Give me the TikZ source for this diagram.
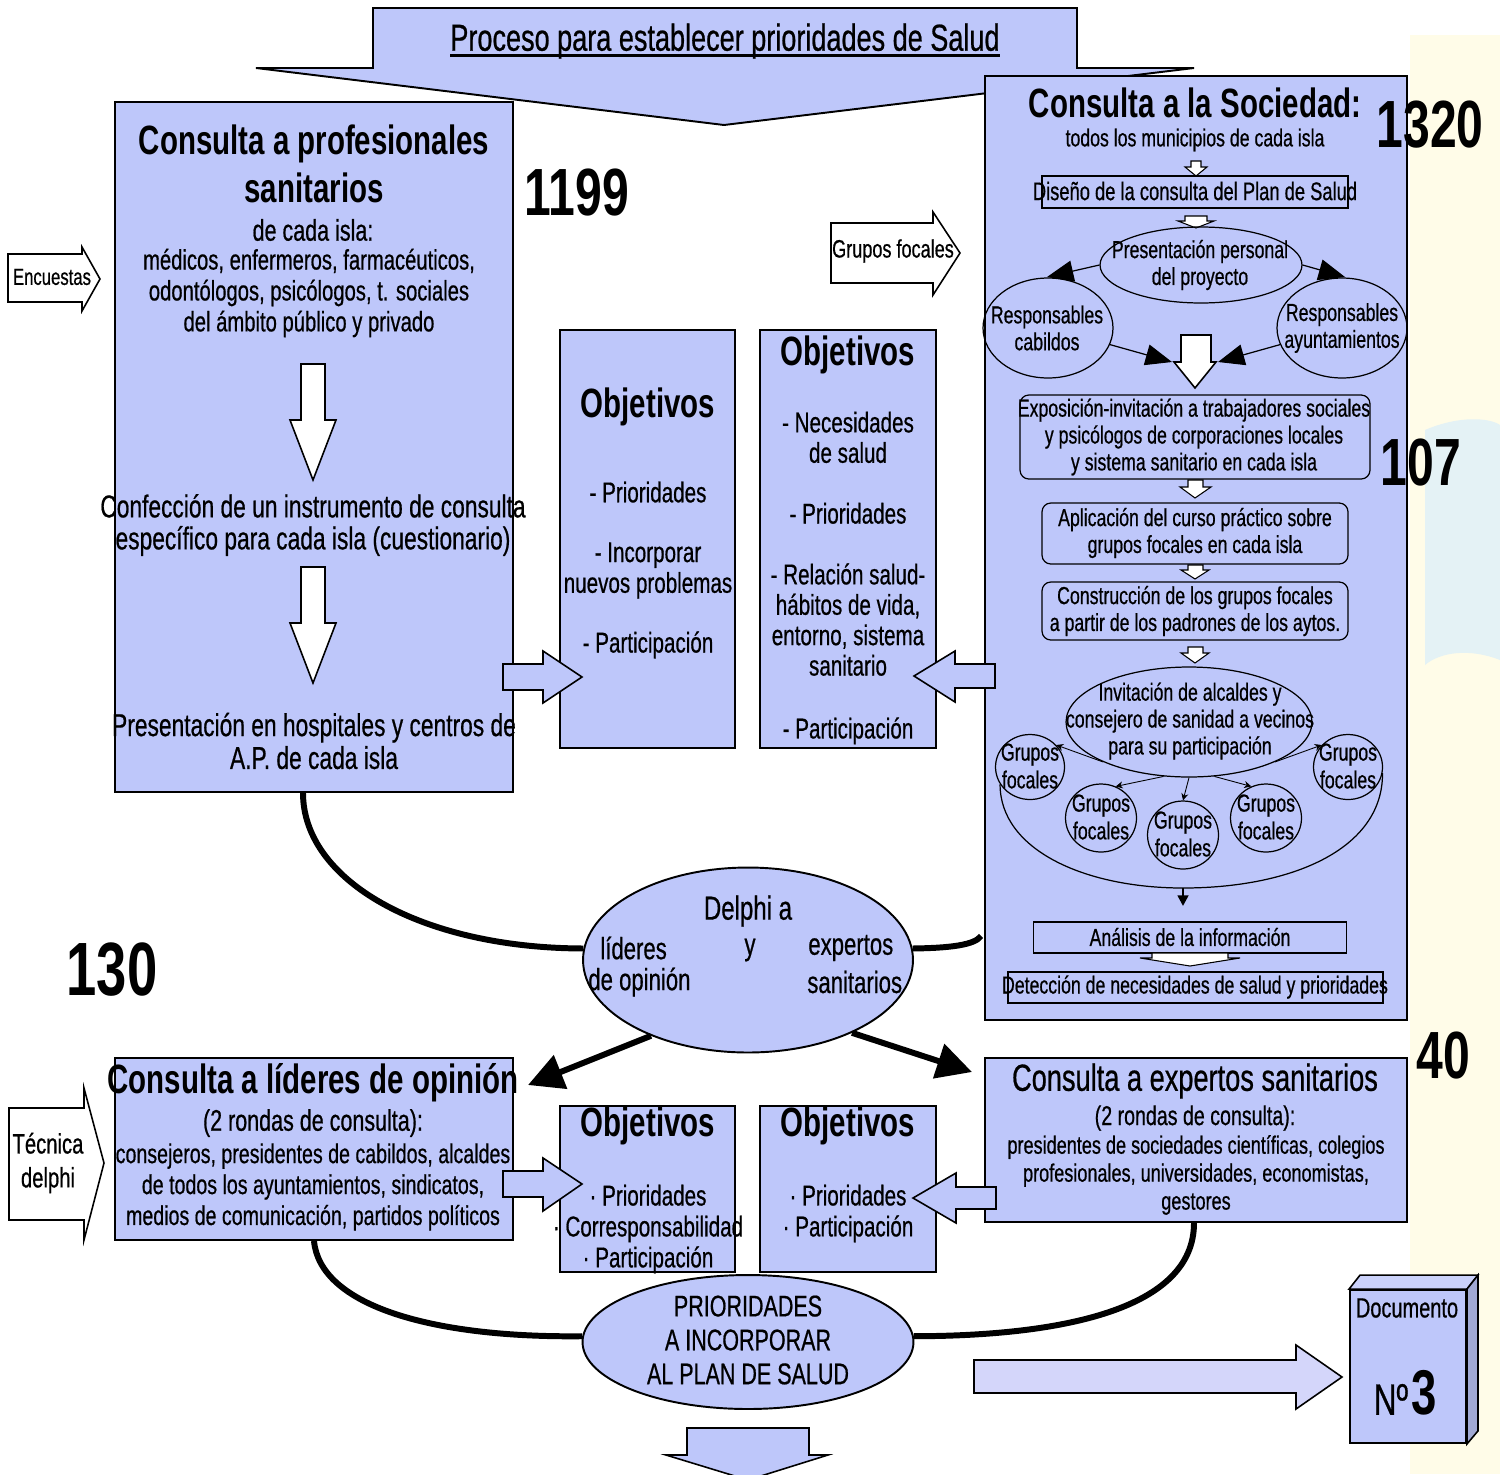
\documentclass[tikz,border=0pt]{standalone}
\usepackage{fontspec}
\setmainfont{Liberation Sans}[FakeStretch=0.72,UprightFeatures={FakeBold=0.6}]
\usetikzlibrary{shapes.geometric,arrows.meta,calc}
\definecolor{boxblue}{RGB}{190,199,250}
\definecolor{docblue}{RGB}{212,214,250}
\definecolor{bgyellow}{RGB}{255,252,232}
\definecolor{bgcyan}{RGB}{228,242,245}
\newcommand\fsz[2]{\fontsize{#1}{#2}\selectfont}

\begin{document}
\begin{tikzpicture}[x=0.02cm,y=-0.02cm,
  panel/.style={draw=black,line width=1.1pt,fill=boxblue,inner sep=0pt,rectangle},
  inbox/.style={draw=black,line width=0.7pt,inner sep=0pt,rectangle},
  rinbox/.style={inbox,rounded corners=5pt},
  oval/.style={ellipse,draw=black,line width=0.7pt,inner sep=0pt},
  bigoval/.style={ellipse,draw=black,line width=1.1pt,fill=boxblue,inner sep=0pt},
  txt/.style={align=center,inner sep=0pt},
  head/.style={txt,font=\bfseries\fsz{23.3}{27}},
  bignum/.style={txt,font=\bfseries\fsz{38}{40}},
  conn/.style={line width=3.4pt,black},
  fatarrow/.style={conn,-{Triangle[length=20pt,width=20pt]}},
  blk/.style={draw=black,line width=0.9pt,fill=boxblue,line join=miter},
  wblk/.style={draw=black,line width=0.9pt,fill=white,line join=miter},
  wsmall/.style={draw=black,line width=0.6pt,fill=white,line join=miter},
  thinarrow/.style={line width=0.7pt,-{Triangle[length=15pt,width=12pt]}},
  minarrow/.style={line width=0.5pt,-{Stealth[length=4pt,width=4pt]}}
]
\useasboundingbox (0,0) rectangle (1500,1474);
\fill[white] (0,0) rectangle (1500,1474);

% pale backdrop along the right edge
\fill[bgyellow] (1410,35) rectangle (1500,1474);
\fill[bgcyan] (1425,430) .. controls (1460,415) and (1490,418) .. (1500,425)
  -- (1500,660) .. controls (1470,648) and (1440,652) .. (1425,665) -- cycle;

% heading banner
\draw[blk,line width=1.1pt] (373,8) -- (1077,8) -- (1077,68) -- (1194,68)
  -- (724,125) -- (256,68) -- (373,68) -- cycle;
\node[txt,font=\fsz{21.4}{24}] (title) at (725,41) {Proceso para establecer prioridades de Salud};
\draw[line width=2pt] ([yshift=2pt]title.south west) -- ([yshift=2pt]title.south east);

% ---------- health professionals ----------
\node[panel,minimum width=7.96cm,minimum height=13.8cm] (prof) at (314,447) {};
\node[head] (profT) at (314,164) {Consulta a profesionales\\sanitarios};
\node[txt,font=\fsz{17}{19}] (profA) at (313,230) {de cada isla:};
\node[txt,font=\fsz{16}{17.6}] (profB) at (309,293) {médicos, enfermeros, farmacéuticos,\\odontólogos, psicólogos, t. sociales\\del ámbito público y privado};
\draw[wblk] (301,364) -- (325,364) -- (325,420) -- (336,420) -- (313,480) -- (290,420) -- (301,420) -- cycle;
\node[txt,font=\fsz{18}{18.2}] (profC) at (313,525) {Confección de un instrumento de consulta\\específico para cada isla (cuestionario)};
\draw[wblk] (301,567) -- (325,567) -- (325,623) -- (336,623) -- (313,683) -- (290,623) -- (301,623) -- cycle;
\node[txt,font=\fsz{18}{18.7}] (profD) at (314,741) {Presentación en hospitales y centros de\\A.P. de cada isla};
\node[bignum] (n1199) at (577,193) {1199};

% side inputs
\draw[wblk] (8,254) -- (82,254) -- (82,247) -- (100,279) -- (82,311) -- (82,302) -- (8,302) -- cycle;
\node[txt,font=\fsz{13.2}{14}] (encT) at (52,277) {Encuestas};
\draw[wblk] (831,223) -- (933,223) -- (933,212) -- (960,253) -- (933,295) -- (933,283) -- (831,283) -- cycle;
\node[txt,font=\fsz{14.3}{15}] (gfT) at (893,251) {Grupos focales};

% ---------- objectives (upper row) ----------
\node[panel,minimum width=3.5cm,minimum height=8.36cm] (o1) at (647.5,539) {};
\node[head] (o1T) at (648,407) {Objetivos};
\node[txt,font=\fsz{16.3}{17.5}] (o1B) at (648,570) {- Prioridades\\[16.5pt]- Incorporar\\nuevos problemas\\[16.5pt]- Participación};
\node[panel,minimum width=3.52cm,minimum height=8.36cm] (o2) at (848,539) {};
\node[head] (o2T) at (848,355) {Objetivos};
\node[txt,font=\fsz{16.3}{17.3}] (o2B) at (848,578) {- Necesidades\\de salud\\[17.3pt]- Prioridades\\[17.3pt]- Relación salud-\\hábitos de vida,\\entorno, sistema\\sanitario\\[18.5pt]- Participación};

% ---------- society panel ----------
\node[panel,minimum width=8.44cm,minimum height=18.88cm] (soc) at (1196,548) {};
\node[head] (socT) at (1195,103) {Consulta a la Sociedad:};
\node[txt,font=\fsz{14}{15}] (socA) at (1195,140) {todos los municipios de cada isla};
\draw[wsmall] (1191,161) -- (1201,161) -- (1201,167) -- (1207,167) -- (1196,176) -- (1185,167) -- (1191,167) -- cycle;
\node[inbox,minimum width=6.12cm,minimum height=0.64cm] (dis) at (1195,192) {};
\node[txt,font=\fsz{14.5}{15}] (disT) at (1195,191) {Diseño de la consulta del Plan de Salud};
\draw[wsmall] (1185,216) -- (1207,216) -- (1207,221) -- (1214,221) -- (1196,228) -- (1178,221) -- (1185,221) -- cycle;

\node[oval,minimum width=4.04cm,minimum height=1.52cm] (pres) at (1201,265) {};
\node[txt,font=\fsz{14}{15.3}] (presT) at (1200,265) {Presentación personal\\del proyecto};
\node[oval,minimum width=2.6cm,minimum height=2cm] (cab) at (1048,328) {};
\node[txt,font=\fsz{14}{15.3}] (cabT) at (1047,328) {Responsables\\cabildos};
\node[oval,minimum width=2.6cm,minimum height=2cm] (ayu) at (1342,328) {};
\node[txt,font=\fsz{14}{15.3}] (ayuT) at (1342,328) {Responsables\\ayuntamientos};
\draw[thinarrow] (pres.west) -- (1047,277);
\draw[thinarrow] (pres.east) -- (1345,277);
\draw[thinarrow] (cab.-15) -- (1172,362);
\draw[thinarrow] (ayu.195) -- (1218,362);
\draw[wblk] (1181,335) -- (1211,335) -- (1211,362) -- (1216,362) -- (1195,388) -- (1174,362) -- (1181,362) -- cycle;

\node[rinbox,minimum width=7cm,minimum height=1.68cm] (expo) at (1195,437) {};
\node[txt,font=\fsz{14}{15.3}] (expoT) at (1194,437) {Exposición-invitación a trabajadores sociales\\y psicólogos de corporaciones locales\\y sistema sanitario en cada isla};
\draw[wsmall] (1188,480) -- (1203,480) -- (1203,487) -- (1211,487) -- (1195,498) -- (1180,487) -- (1188,487) -- cycle;
\node[rinbox,minimum width=6.12cm,minimum height=1.22cm] (apl) at (1195,533.5) {};
\node[txt,font=\fsz{14}{15.3}] (aplT) at (1195,533) {Aplicación del curso práctico sobre\\grupos focales en cada isla};
\draw[wsmall] (1188,565) -- (1203,565) -- (1203,570) -- (1209,570) -- (1195,579) -- (1181,570) -- (1188,570) -- cycle;
\node[rinbox,minimum width=6.12cm,minimum height=1.16cm] (cons) at (1195,611) {};
\node[txt,font=\fsz{14}{15.3}] (consT) at (1195,611) {Construcción de los grupos focales\\a partir de los padrones de los aytos.};
\draw[wsmall] (1188,647) -- (1203,647) -- (1203,653) -- (1209,653) -- (1195,663) -- (1181,653) -- (1188,653) -- cycle;

\node[oval,minimum width=4.92cm,minimum height=2.2cm] (inv) at (1189,722) {};
\node[txt,font=\fsz{14}{15.3}] (invT) at (1190,721) {Invitación de alcaldes y\\consejero de sanidad a vecinos\\para su participación};
\node[oval,minimum width=1.38cm,minimum height=1.3cm] (g1) at (1030,767) {};
\node[txt,font=\fsz{14}{15.8}] (g1T) at (1030,766) {Grupos\\focales};
\node[oval,minimum width=1.38cm,minimum height=1.3cm] (g5) at (1348,767) {};
\node[txt,font=\fsz{14}{15.8}] (g5T) at (1348,766) {Grupos\\focales};
\node[oval,minimum width=1.42cm,minimum height=1.36cm] (g2) at (1101,818) {};
\node[txt,font=\fsz{14}{15.8}] (g2T) at (1101,817) {Grupos\\focales};
\node[oval,minimum width=1.42cm,minimum height=1.36cm] (g3) at (1183,835) {};
\node[txt,font=\fsz{14}{15.8}] (g3T) at (1183,834) {Grupos\\focales};
\node[oval,minimum width=1.42cm,minimum height=1.36cm] (g4) at (1266,818) {};
\node[txt,font=\fsz{14}{15.8}] (g4T) at (1266,817) {Grupos\\focales};
\draw[minarrow] (inv.205) -- (g1.40);
\draw[minarrow] (inv.335) -- (g5.140);
\draw[minarrow] (inv.245) -- (g2.65);
\draw[minarrow] (inv.south) -- (g3.north);
\draw[minarrow] (inv.295) -- (g4.115);
\draw[line width=0.7pt] (g1.210) .. controls (1000,850) and (1085,888) .. (1183,888) coordinate (loopb)
  .. controls (1290,888) and (1383,850) .. (g5.-10);
\coordinate (anatop) at (1183,906);
\draw[line width=1.4pt,-{Triangle[length=6pt,width=6pt]}] (loopb) -- (anatop);

\node[inbox,minimum width=6.26cm,minimum height=0.62cm] (ana) at (1190,937.5) {};
\node[txt,font=\fsz{14}{15}] (anaT) at (1190,937) {Análisis de la información};
\draw[wsmall] (1152,953) -- (1228,953) -- (1228,958) -- (1240,958) -- (1190,966) -- (1140,958) -- (1152,958) -- cycle;
\node[inbox,minimum width=7.5cm,minimum height=0.62cm] (det) at (1195.5,987.5) {};
\node[txt,font=\fsz{14}{15}] (detT) at (1195,987) {Detección de necesidades de salud y prioridades};

\node[bignum] (n1320) at (1430,125) {1320};
\node[bignum] (n107) at (1421,463) {107};

% arrows into the objective boxes
\draw[blk] (503,664) -- (543,664) -- (543,651) -- (582,677) -- (543,703) -- (543,690) -- (503,690) -- cycle;
\draw[blk] (995,664) -- (955,664) -- (955,651) -- (914,676) -- (955,702) -- (955,688) -- (995,688) -- cycle;

% ---------- Delphi ----------
\node[bigoval,minimum width=6.6cm,minimum height=3.7cm] (delphi) at (748,960) {};
\node[txt,font=\fsz{19}{20}] (dA) at (748,911) {Delphi a};
\node[txt,font=\fsz{17.5}{19},anchor=west] (dB) at (600,948) {líderes};
\node[txt,font=\fsz{17.5}{19}] (dC) at (750,950) {y};
\node[txt,font=\fsz{17.5}{19},anchor=west] (dD) at (808,948) {expertos};
\node[txt,font=\fsz{17.5}{19},anchor=west] (dE) at (588,982) {de opinión};
\node[txt,font=\fsz{17.5}{19},anchor=west] (dF) at (807,982) {sanitarios};
\coordinate (socw) at ($(soc.south west)+(-3,-85)$);
\draw[conn] ($(prof.south)+(-11,0)$) .. controls (303,880) and (420,948) .. (delphi.176);
\draw[conn] (delphi.4) .. controls (950,948) and (975,945) .. (socw);
\node[bignum,font=\bfseries\fsz{43}{45}] (n130) at (112,970) {130};

% ---------- opinion leaders ----------
\node[panel,minimum width=7.96cm,minimum height=3.64cm] (lid) at (314,1149) {};
\node[head] (lidT) at (313,1083) {Consulta a líderes de opinión};
\node[txt,font=\fsz{17}{18}] (lidA) at (313,1123) {(2 rondas de consulta):};
\node[txt,font=\fsz{15.5}{17.6}] (lidB) at (313,1187) {consejeros, presidentes de cabildos, alcaldes\\de todos los ayuntamientos, sindicatos,\\medios de comunicación, partidos políticos};
\draw[wblk] (9,1108) -- (84,1108) -- (84,1088) -- (104,1163) -- (84,1240) -- (84,1220) -- (9,1220) -- cycle;
\node[txt,font=\fsz{16}{19.3}] (tecT) at (48,1163) {Técnica\\delphi};

% ---------- objectives (lower row) ----------
\node[panel,minimum width=3.5cm,minimum height=3.32cm] (o3) at (647.5,1189) {};
\node[head] (o3T) at (648,1126) {Objetivos};
\node[txt,font=\fsz{16.3}{17.6}] (o3B) at (648,1229) {· Prioridades\\· Corresponsabilidad\\· Participación};
\node[panel,minimum width=3.52cm,minimum height=3.32cm] (o4) at (848,1189) {};
\node[head] (o4T) at (848,1126) {Objetivos};
\node[txt,font=\fsz{16.3}{17.6}] (o4B) at (848,1213.5) {· Prioridades\\· Participación};

% ---------- health experts ----------
\node[panel,minimum width=8.44cm,minimum height=3.28cm] (exp) at (1196,1140) {};
\node[txt,font=\fsz{21.5}{23}] (expT) at (1195,1081) {Consulta a expertos sanitarios};
\node[txt,font=\fsz{15.5}{17}] (expA) at (1195,1118) {(2 rondas de consulta):};
\node[txt,font=\fsz{14.3}{15.9}] (expB) at (1196,1175) {presidentes de sociedades científicas, colegios\\profesionales, universidades, economistas,\\gestores};
\node[bignum] (n40) at (1443,1055) {40};

\draw[blk] (503,1171) -- (543,1171) -- (543,1158) -- (582,1184) -- (543,1211) -- (543,1197) -- (503,1197) -- cycle;
\draw[blk] (996,1187) -- (956,1187) -- (956,1173) -- (913,1198) -- (956,1223) -- (956,1209) -- (996,1209) -- cycle;

% Delphi splits into both consultations
\coordinate (lidin) at (528,1085);
\coordinate (expin) at (972,1072);
\draw[fatarrow] (delphi.218) -- (lidin);
\draw[fatarrow] (delphi.325) -- (expin);

% ---------- priorities ----------
\node[bigoval,minimum width=6.62cm,minimum height=2.68cm] (prio) at (748,1342) {};
\node[txt,font=\fsz{17}{19.3}] (prioT) at (748,1340) {PRIORIDADES\\A INCORPORAR\\AL PLAN DE SALUD};
\draw[conn] (lid.south) .. controls (320,1305) and (430,1338) .. (prio.178);
\draw[conn] ($(exp.south)+(-2,0)$) .. controls (1194,1310) and (1060,1336) .. (prio.2);
\draw[blk] (687,1428) -- (809,1428) -- (809,1455) -- (828,1455) -- (748,1480) -- (666,1455) -- (687,1455) -- cycle;

% ---------- document ----------
\draw[draw=black,line width=0.9pt,fill=docblue,line join=miter] (974,1360) -- (1296,1360) -- (1296,1345)
  -- (1342,1377) -- (1296,1409) -- (1296,1393) -- (974,1393) -- cycle;
\node[panel,minimum width=2.32cm,minimum height=3.06cm] (doc) at (1408,1366.5) {};
\draw[line width=0.9pt,fill=boxblue!80!white,line join=miter] (doc.north west) -- ++(11,-14)
  -- ($(doc.north east)+(11,-14)$) -- (doc.north east) -- cycle;
\draw[line width=0.9pt,fill=boxblue!85!black,line join=miter] (doc.north east) -- ++(11,-14)
  -- ($(doc.south east)+(11,-13)$) -- (doc.south east) -- cycle;
\node[txt,font=\fsz{15.8}{17}] (docA) at (1407,1308) {Documento};
\node[txt] (docB) at (1405,1393) {{\fsz{25}{26}Nº}\,{\fsz{36}{36}\bfseries 3}};
\end{tikzpicture}
\end{document}
